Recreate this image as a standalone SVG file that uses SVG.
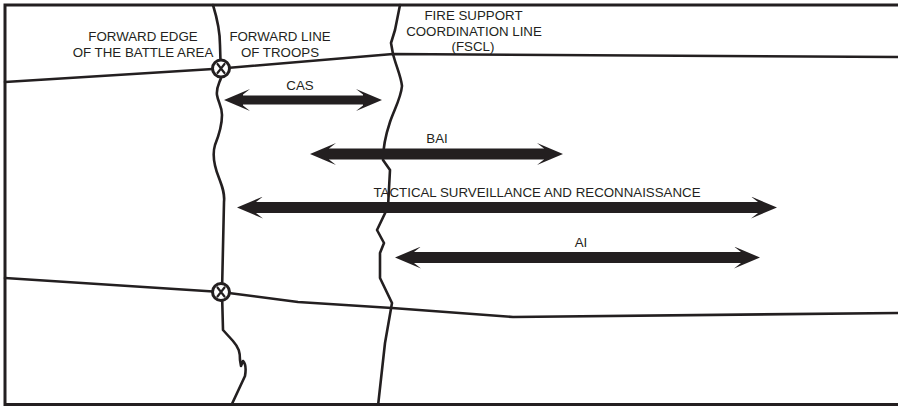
<svg xmlns="http://www.w3.org/2000/svg" width="898" height="406" viewBox="0 0 898 406">
  <style>
    .ln { fill: none; stroke: #231f20; stroke-width: 2.6; stroke-linejoin: round; stroke-linecap: round; }
    .frame { fill: none; stroke: #231f20; stroke-width: 3; }
    .arrow { stroke: #231f20; stroke-width: 11; marker-start: url(#ah); marker-end: url(#ah); }
    .xc { fill: #ffffff; stroke: #231f20; stroke-width: 3; }
    .xm { stroke: #231f20; stroke-width: 2.2; stroke-linecap: round; }
    .lbl { font-family: "Liberation Sans", Arial, sans-serif; font-size: 13.3px; fill: #231f20; text-anchor: middle; }
  </style>
  <defs>
    <marker id="ah" markerUnits="userSpaceOnUse" markerWidth="26" markerHeight="22" viewBox="0 0 26 22" refX="8" refY="11" orient="auto-start-reverse">
      <path d="M0,0 L26,11 L0,22 L7,16.5 L7,5.5 Z" fill="#231f20"/>
    </marker>
  </defs>
  <rect width="898" height="406" fill="#ffffff"/>

  <g id="frame">
    <path class="frame" d="M898,5 L5,5 L5,406 M5,404.5 L898,404.5"/>
  </g>

  <g id="lateral-lines">
    <path class="ln" d="M5,82 L221,68.5 L393,54 L898,57"/>
    <path class="ln" d="M5,278 L221,292 L298,302 L392,308 L513,317 L898,313"/>
  </g>

  <g id="flot">
    <path class="ln" d="M213,5 C217,18 220,30 220,45 L221,78 C219,84 216,88 217,95 C218,102 222,106 222,115 C222,125 219,135 215,145 C212,155 215,168 219,178 C222,186 225,193 224,202 L222,292 L223,330 L233,341 C239,348 240,352 240,360 L241,366 L243,361 C246,364 246,370 245,376 L231,406"/>
  </g>

  <g id="fscl">
    <path class="ln" d="M400,5 L395,30 L391,43 L393,54 C396,66 401,76 402,86 C401,98 394,110 390,122 C386,134 383,145 383,160 L390,170 L388,207 L377,230 L384,243 L380,253 L380,278 L392,303 L385,343 L378,406"/>
  </g>

  <g id="point-upper">
    <circle class="xc" cx="221" cy="68.5" r="8.5"/>
    <path class="xm" d="M217.5,64 L224.5,73 M224.5,64 L217.5,73"/>
  </g>
  <g id="point-lower">
    <circle class="xc" cx="221" cy="292" r="8.5"/>
    <path class="xm" d="M217.5,287.5 L224.5,296.5 M224.5,287.5 L217.5,296.5"/>
  </g>

  <g id="label-feba">
    <text class="lbl" x="143" y="41">FORWARD EDGE</text>
    <text class="lbl" x="143" y="57">OF THE BATTLE AREA</text>
  </g>
  <g id="label-flot">
    <text class="lbl" x="280" y="41">FORWARD LINE</text>
    <text class="lbl" x="280" y="57">OF TROOPS</text>
  </g>
  <g id="label-fscl">
    <text class="lbl" x="473.5" y="20">FIRE SUPPORT</text>
    <text class="lbl" x="474" y="35.5">COORDINATION LINE</text>
    <text class="lbl" x="473" y="51">(FSCL)</text>
  </g>

  <g id="connectors">
    <g id="cas">
      <line class="arrow" x1="242" y1="100" x2="364" y2="100" style="stroke-width:9"/>
      <text class="lbl" x="300" y="90">CAS</text>
    </g>
    <g id="bai">
      <line class="arrow" x1="328" y1="154" x2="545" y2="154"/>
      <text class="lbl" x="437" y="143">BAI</text>
    </g>
    <g id="tsr">
      <line class="arrow" x1="255" y1="207.5" x2="759" y2="207.5"/>
      <text class="lbl" x="537" y="197">TACTICAL SURVEILLANCE AND RECONNAISSANCE</text>
    </g>
    <g id="ai">
      <line class="arrow" x1="413" y1="257.5" x2="742" y2="257.5"/>
      <text class="lbl" x="581" y="246.5">AI</text>
    </g>
  </g>
</svg>
